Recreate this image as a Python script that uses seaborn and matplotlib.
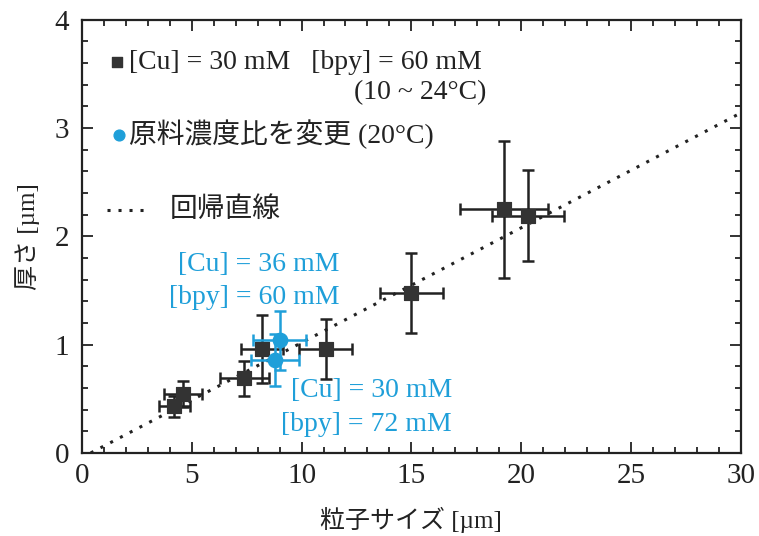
import numpy as np
import pandas as pd
import seaborn as sns
import matplotlib.pyplot as plt
from matplotlib.ticker import MultipleLocator

# data
cu_x = [4.2, 4.6, 7.4, 8.2, 11.1, 15.0, 19.2, 20.3]
cu_y = [0.43, 0.54, 0.69, 0.96, 0.96, 1.48, 2.25, 2.19]
cu_xerr = [0.7, 0.85, 1.1, 0.95, 1.2, 1.45, 2.0, 1.65]
cu_yerr = [0.1, 0.12, 0.16, 0.31, 0.28, 0.37, 0.63, 0.42]

ratio_x = [9.0, 8.8]
ratio_y = [1.04, 0.86]
ratio_xerr = [1.2, 1.1]
ratio_yerr = [0.27, 0.24]

reg_x = [0.4, 30.0]
reg_y = [0.0, 3.14]

dark = '#333333'
ink = '#222222'
blue = '#1f9fd9'
fs = 20

sns.set_style('ticks')
plt.rcParams['font.family'] = ['Liberation Serif', 'Noto Sans CJK JP']

fig = plt.figure(figsize=(7.59, 5.36), dpi=100)
ax = fig.add_axes([0.108, 0.155, 0.868, 0.808])

df_cu = pd.DataFrame({'x': cu_x, 'y': cu_y})
df_ratio = pd.DataFrame({'x': ratio_x, 'y': ratio_y})
df_reg = pd.DataFrame({'x': reg_x, 'y': reg_y})

dots = (0, (1, 2.6))
sns.lineplot(data=df_reg, x='x', y='y', ax=ax, color=ink, lw=2.2, linestyle=dots)

ax.errorbar(cu_x, cu_y, xerr=cu_xerr, yerr=cu_yerr, fmt='none',
            ecolor=ink, elinewidth=1.8, capsize=4, capthick=1.8, zorder=3)
ax.errorbar(ratio_x, ratio_y, xerr=ratio_xerr, yerr=ratio_yerr, fmt='none',
            ecolor=blue, elinewidth=1.8, capsize=4, capthick=1.8, zorder=3)

sns.scatterplot(data=df_cu, x='x', y='y', ax=ax, marker='s', s=110,
                color=dark, edgecolor=dark, zorder=4)
sns.scatterplot(data=df_ratio, x='x', y='y', ax=ax, marker='o', s=110,
                color=blue, edgecolor=blue, zorder=4)

ax.set_xlim(0, 30)
ax.set_ylim(0, 4)
ax.xaxis.set_major_locator(MultipleLocator(5))
ax.xaxis.set_minor_locator(MultipleLocator(1))
ax.yaxis.set_major_locator(MultipleLocator(1))
ax.yaxis.set_minor_locator(MultipleLocator(0.2))
ax.tick_params(which='both', direction='in', top=True, right=True, width=1.3,
               labelsize=21, colors=ink)
ax.tick_params(axis='x', pad=7)
ax.tick_params(axis='y', pad=9)
ax.tick_params(which='major', length=8)
ax.tick_params(which='minor', length=4)
for sp in ax.spines.values():
    sp.set_linewidth(1.6)
    sp.set_color(ink)

ax.set_xlabel('粒子サイズ [µm]', fontsize=18, color=ink, labelpad=13)
ax.set_ylabel('厚さ [µm]', fontsize=18, color=ink, labelpad=11)

# hand-made legend
ax.scatter([1.59], [3.61], marker='s', s=55, color=dark, zorder=5)
ax.text(2.15, 3.61, '[Cu] = 30 mM   [bpy] = 60 mM', fontsize=fs,
        va='center', color=ink)
ax.text(18.43, 3.33, '(10 ~ 24°C)', fontsize=fs, va='center', ha='right',
        color=ink)
ax.scatter([1.68], [2.94], marker='o', s=60, color=blue, zorder=5)
ax.text(2.15, 2.94, '原料濃度比を変更 (20°C)', fontsize=fs, va='center',
        color=ink)
ax.plot([1.14, 3.1], [2.245, 2.245], color=ink, lw=2.2, linestyle=dots)
ax.text(4.0, 2.245, '回帰直線', fontsize=fs, va='center', color=ink)

# annotations for the changed ratio points
ax.text(11.74, 1.737, '[Cu] = 36 mM', fontsize=fs, ha='right', va='center', color=blue)
ax.text(11.74, 1.44, '[bpy] = 60 mM', fontsize=fs, ha='right', va='center', color=blue)
ax.text(16.84, 0.58, '[Cu] = 30 mM', fontsize=fs, ha='right', va='center', color=blue)
ax.text(16.84, 0.26, '[bpy] = 72 mM', fontsize=fs, ha='right', va='center', color=blue)

fig.savefig('out.png', dpi=100)
